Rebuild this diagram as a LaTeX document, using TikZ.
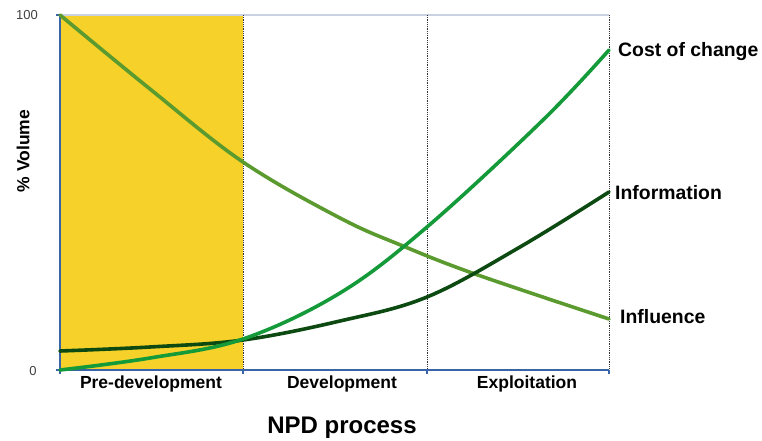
\documentclass[tikz,border=0pt]{standalone}
\usepackage{fontspec}
\setmainfont{Liberation Sans}
\definecolor{axisblue}{HTML}{3A64A8}
\definecolor{gridgray}{HTML}{C8D2E0}
\definecolor{phaseyellow}{HTML}{F5D12A}
\definecolor{inflgreen}{HTML}{5A9A2E}
\definecolor{costgreen}{HTML}{159A3A}
\definecolor{infogreen}{HTML}{0D4A12}
\tikzset{
  curve/.style={line width=3.6pt, line cap=round},
  divider/.style={densely dotted, line width=0.8pt, black!80},
  axisline/.style={axisblue, line width=2.4pt},
  lbl/.style={inner sep=0pt, font=\bfseries\fontsize{19.4}{21}\selectfont},
  phaselbl/.style={inner sep=0pt, anchor=base, font=\bfseries\fontsize{17.5}{19}\selectfont},
  ticklbl/.style={inner sep=0pt, anchor=base, font=\fontsize{13}{15}\selectfont, black!75}
}
\begin{document}
\begin{tikzpicture}[x=1pt,y=-1pt]
\useasboundingbox (0,0) rectangle (762,441);
% shaded phase
\fill[phaseyellow] (60,15) rectangle (243,370);
% top gridline
\draw[gridgray, line width=1.2pt] (60,15) -- (609,15);
% phase dividers
\coordinate (d1t) at (243,15); \coordinate (d1b) at (243,370);
\coordinate (d2t) at (427,15); \coordinate (d2b) at (427,370);
\coordinate (d3t) at (609,15); \coordinate (d3b) at (609,370);
\draw[divider] (d1t) -- (d1b);
\draw[divider] (d2t) -- (d2b);
\draw[divider] (d3t) -- (d3b);
% axes
\coordinate (o) at (60,370); \coordinate (ytop) at (60,15); \coordinate (xend) at (609,370);
\draw[axisline] (ytop) -- (o) -- (xend);
\foreach \x in {60,243,427,609} \draw[axisblue, line width=1.6pt] (\x,370) -- (\x,374);
\draw[axisblue, line width=1.6pt] (56,15) -- (60,15);
\draw[axisblue, line width=1.6pt] (56,370) -- (60,370);
% curves
\draw[curve, inflgreen] plot[smooth, tension=0.6] coordinates {(60,15) (150,89) (243,162) (340,218) (403,246) (475,274) (609,319)};
\draw[curve, infogreen] plot[smooth, tension=0.6] coordinates {(60,351) (150,347) (243,340) (340,321) (427,297) (520,247) (609,192)};
\draw[curve, costgreen] plot[smooth, tension=0.6] coordinates {(60,370) (150,358) (243,339) (340,293) (427,227) (543,120) (609,50)};
% labels
\node[ticklbl] (t100) at (27,20) {100};
\node[ticklbl] (t0) at (33,375) {0};
\node[lbl, rotate=90, font=\bfseries\fontsize{17.5}{19}\selectfont] (ylab) at (23,151) {\% Volume};
\node[lbl, anchor=base west] (lcost) at (618,57) {Cost of change};
\node[lbl, anchor=base west] (linfo) at (615,199) {Information};
\node[lbl, anchor=base west] (linfl) at (620,323) {Influence};
\node[phaselbl] (p1) at (151,388) {Pre-development};
\node[phaselbl] (p2) at (342,388) {Development};
\node[phaselbl] (p3) at (527,388) {Exploitation};
\node[inner sep=0pt, anchor=base, font=\bfseries\fontsize{24}{26}\selectfont] (xlab) at (342,433) {NPD process};
\end{tikzpicture}
\end{document}
